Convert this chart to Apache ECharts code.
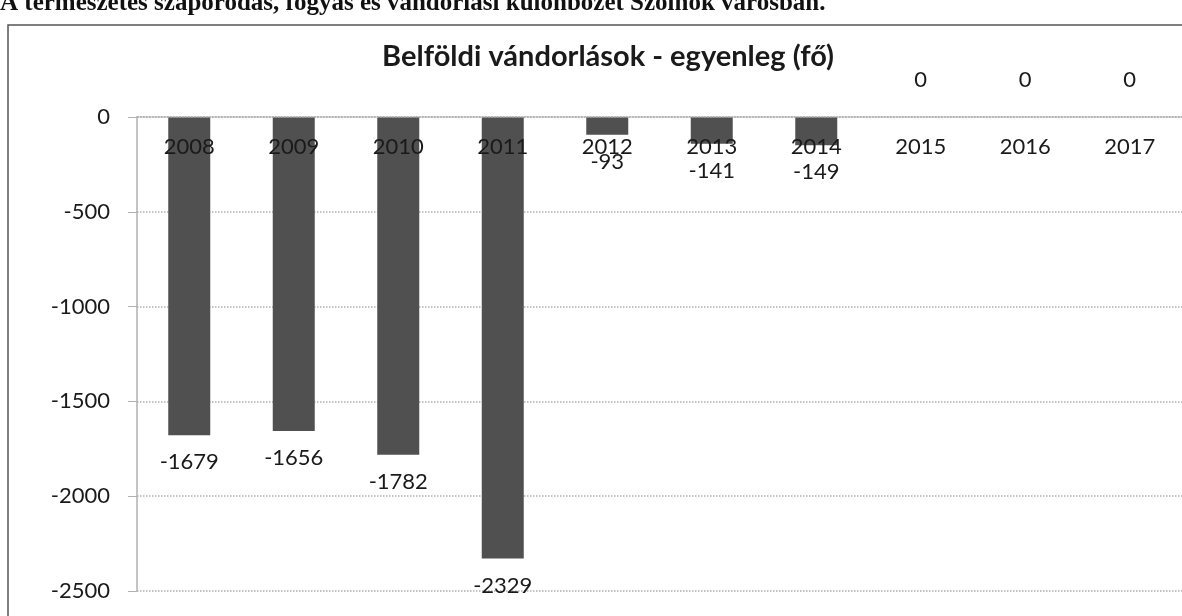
<!DOCTYPE html>
<html>
<head>
<meta charset="utf-8">
<script src="https://cdn.jsdelivr.net/npm/echarts@6/dist/echarts.min.js"></script>
<style>
  html, body { margin: 0; padding: 0; background: #fff; }
  #chart { width: 1182px; height: 616px; }
</style>
</head>
<body>
<div id="chart"></div>
<script>
const years = ["2008", "2009", "2010", "2011", "2012", "2013", "2014", "2015", "2016", "2017"];
const balance = [-1679, -1656, -1782, -2329, -93, -141, -149, 0, 0, 0];
const yTicks = { min: -2500, max: 0, step: 500 };

const textColor = "#1a1a1a";
const gridColor = "#b0b0b0";
const font = "Lato, 'Open Sans', sans-serif";

const chart = echarts.init(document.getElementById("chart"), null, { renderer: "canvas" });

chart.setOption({
  animation: false,
  title: {
    text: "Belföldi vándorlások - egyenleg (fő)",
    left: 603,
    textAlign: "center",
    top: 37,
    textStyle: { fontFamily: font, fontSize: 29, fontWeight: "bold", color: textColor },
  },
  graphic: [
    {
      type: "text",
      left: 0,
      top: -9,
      style: {
        text: "A természetes szaporodás, fogyás és vándorlási különbözet Szolnok városban.",
        fontFamily: "'Liberation Serif', 'DejaVu Serif', serif",
        fontSize: 25,
        fontWeight: "bold",
        fill: "#111",
      },
    },
    {
      type: "rect",
      shape: { x: 8, y: 25, width: 1200, height: 620 },
      style: { fill: "none", stroke: "#555", lineWidth: 1.5 },
    },
  ],
  grid: { left: 137, top: 117, width: 1058, height: 474 },
  xAxis: {
    type: "category",
    position: "top",
    z: 5,
    data: years,
    axisLine: { lineStyle: { color: gridColor, type: "dotted", width: 1.5 } },
    axisTick: { show: false },
    axisLabel: { inside: true, color: textColor, fontFamily: font, fontSize: 22, margin: 19 },
  },
  yAxis: {
    type: "value",
    min: yTicks.min,
    max: yTicks.max,
    interval: yTicks.step,
    axisLine: { show: true, lineStyle: { color: gridColor, width: 1.5 } },
    axisTick: { show: true, length: 9, lineStyle: { color: gridColor } },
    axisLabel: {
      color: textColor,
      fontFamily: font,
      fontSize: 22,
      margin: 27,
      formatter: (v) => String(v),
    },
    splitLine: { lineStyle: { color: gridColor, type: "dotted", width: 1.5 } },
  },
  series: [
    {
      type: "bar",
      data: balance.map((v) => ({
        value: v,
        label: v === 0 ? { position: "top", distance: 26 } : { position: "bottom", distance: 16 },
      })),
      barWidth: 42,
      itemStyle: { color: "#505050" },
      label: {
        show: true,
        color: textColor,
        fontFamily: font,
        fontSize: 22,
      },
    },
  ],
});
</script>
</body>
</html>
